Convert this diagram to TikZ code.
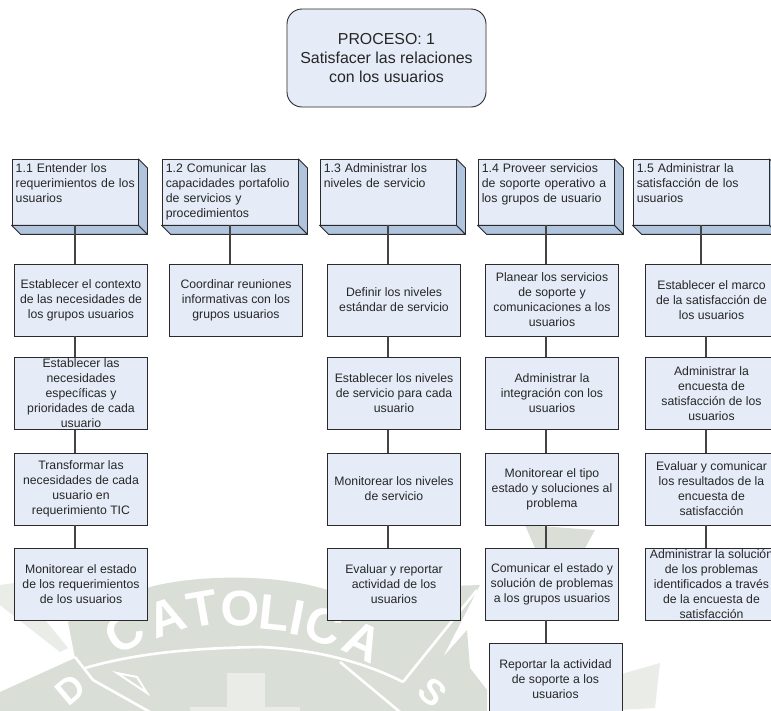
\documentclass[tikz,border=0pt]{standalone}
\usepackage{fontspec}
\setmainfont{Liberation Sans}
\usetikzlibrary{calc}
\definecolor{boxfill}{HTML}{E6ECF7}
\definecolor{depthfill}{HTML}{B0C4DE}
\definecolor{edgecol}{HTML}{2A2A2A}
\definecolor{linkcol}{HTML}{444444}
\definecolor{wmgrey}{HTML}{D9DED6}
\definecolor{wmlight}{HTML}{E9ECE7}
\tikzset{
  x=1pt,y=-1pt,
  procbox/.style={draw=edgecol,fill=boxfill,line width=0.9pt,rounded corners=15pt,minimum width=199pt,minimum height=98pt,inner sep=0pt,align=center,font=\fontsize{15.9}{18.6}\selectfont,text=black!85},
  headbox/.style={draw=edgecol,fill=boxfill,line width=0.9pt,minimum height=65.5pt,inner sep=0pt},
  headtext/.style={anchor=north west,inner sep=0pt,align=left,font=\fontsize{12.3}{15}\selectfont,text=black!85},
  taskbox/.style={draw=edgecol,fill=boxfill,line width=0.9pt,minimum width=133pt,minimum height=72pt,inner sep=0pt,align=center,font=\fontsize{12.25}{15}\selectfont,text=black!85},
  tasktext/.style={inner sep=0pt,align=center,font=\fontsize{12.25}{15}\selectfont,text=black!85},
  link/.style={draw=linkcol,line width=1.1pt},
  depthface/.style={draw=edgecol,fill=depthfill,line width=0.9pt,line join=round},
  wmletter/.style={text=white,font=\bfseries\fontsize{50}{50}\selectfont,inner sep=0pt},
  wmline/.style={draw=white,line width=2.6pt},
}
\newcommand{\headerbox}[5]{% name, left, right, width of text, text
  \node[headbox,minimum width=#3pt-#2pt] (#1) at ({(#2+#3)/2},192.2) {};
  \path[depthface] (#1.north east) -- ++(9,9) -- ($(#1.south east)+(9,9)$) -- (#1.south east) -- cycle;
  \path[depthface] (#1.south west) -- ++(9,9) -- ($(#1.south east)+(9,9)$) -- (#1.south east) -- cycle;
  \node[headtext,text width=#4pt] (#1t) at ($(#1.north west)+(4,4.5)$) {#5};
}
\begin{document}
\begin{tikzpicture}
\useasboundingbox (0,0) rectangle (771,710);
\clip (0,0) rectangle (771,710);
\fill[white] (0,0) rectangle (771,710);
% watermark seal
\fill[wmgrey] (68,622) -- (120,596) -- (150,587) .. controls (190,576) and (270,572) .. (328,590) -- (480,585) -- (443,657) -- (467,630) -- (470,668) -- (487,690) -- (487,715) -- (0,715) -- (0,692) -- (75,658) -- cycle;
\fill[wmgrey] (525,525) -- (595,530) -- (585,548) -- (535,548) -- cycle;
\fill[wmlight] (618,675) -- (660,663) -- (655,708) -- (618,710) -- cycle;
\fill[wmlight] (0,585) -- (15,583) -- (68,648) -- (60,652) -- (0,605) -- cycle;
\draw[wmline] (75,657) -- (93,680) -- (150,712);
\draw[wmline] (85,668) .. controls (140,652) and (200,648) .. (260,647) .. controls (310,649) and (360,660) .. (403,682);
\draw[wmline] (403,682) -- (477,590);
\draw[wmline] (340,662) -- (400,712);
\draw[wmline,line width=2pt] (117,673) -- (137,677) -- (147,693) -- cycle;
\foreach \ch/\px/\py/\rot [count=\i] in {C/125/633/30,A/167/617/20,T/203/609/10,O/240/609/2,L/274/613/-6,I/298/618/-11,C/324/626/-17,A/363/642/-25}
  \node[wmletter,rotate=\rot] (wm\i) at (\px,\py) {\ch};
\node[wmletter,font=\bfseries\fontsize{36}{36}\selectfont,rotate=40] (wmD) at (70,690) {D};
\node[wmletter,font=\bfseries\fontsize{36}{36}\selectfont,rotate=-42] (wmS) at (433,692) {S};
\fill[wmlight] (227,673) rectangle (265,715);
\fill[wmlight] (190,707) rectangle (300,715);
% process
\node[procbox] (proc) at (386.5,58) {PROCESO: 1\\Satisfacer las relaciones\\con los usuarios};
% headers
\headerbox{hA}{12}{138}{128}{1.1 Entender los\\requerimientos de los\\usuarios}
\headerbox{hB}{162}{298}{132}{1.2 Comunicar las\\capacidades portafolio\\de servicios y\\procedimientos}
\headerbox{hC}{320}{456}{132}{1.3 Administrar los\\niveles de servicio}
\headerbox{hD}{478}{614}{132}{1.4 Proveer servicios\\de soporte operativo a\\los grupos de usuario}
\headerbox{hE}{633}{769}{132}{1.5 Administrar la\\satisfacción de los\\usuarios}
% tasks
\node[taskbox] (a1) at (81,300) {Establecer el contexto\\de las necesidades de\\los grupos usuarios};
\node[taskbox] (a2) at (81,393.5) {};
\node[tasktext] (a2t) at (a2.center) {Establecer las\\necesidades\\específicas y\\prioridades de cada\\usuario};
\node[taskbox] (a3) at (81,489) {Transformar las\\necesidades de cada\\usuario en\\requerimiento TIC};
\node[taskbox] (a4) at (81,584) {Monitorear el estado\\de los requerimientos\\de los usuarios};
\node[taskbox] (b1) at (236,300) {Coordinar reuniones\\informativas con los\\grupos usuarios};
\node[taskbox] (c1) at (394,300) {Definir los niveles\\estándar de servicio};
\node[taskbox] (c2) at (394,393.5) {Establecer los niveles\\de servicio para cada\\usuario};
\node[taskbox] (c3) at (394,489) {Monitorear los niveles\\de servicio};
\node[taskbox] (c4) at (394,584) {Evaluar y reportar\\actividad de los\\usuarios};
\node[taskbox] (d1) at (552,300) {Planear los servicios\\de soporte y\\comunicaciones a los\\usuarios};
\node[taskbox] (d2) at (552,393.5) {Administrar la\\integración con los\\usuarios};
\node[taskbox] (d3) at (552,489) {Monitorear el tipo\\estado y soluciones al\\problema};
\node[taskbox] (d4) at (552,584) {Comunicar el estado y\\solución de problemas\\a los grupos usuarios};
\node[taskbox] (d5) at (555.5,679) {Reportar la actividad\\de soporte a los\\usuarios};
\node[taskbox] (e1) at (711.5,300) {Establecer el marco\\de la satisfacción de\\los usuarios};
\node[taskbox] (e2) at (711.5,393.5) {Administrar la\\encuesta de\\satisfacción de los\\usuarios};
\node[taskbox] (e3) at (711.5,489) {Evaluar y comunicar\\los resultados de la\\encuesta de\\satisfacción};
\node[taskbox] (e4) at (711.5,584) {};
\node[tasktext] (e4t) at (e4.center) {Administrar la solución\\de los problemas\\identificados a través\\de la encuesta de\\satisfacción};
% connectors
\draw[link] (hA.south) -- (hA.south |- a1.north);
\draw[link] (hA.south |- a1.south) -- (hA.south |- a2.north);
\draw[link] (hA.south |- a2.south) -- (hA.south |- a3.north);
\draw[link] (hA.south |- a3.south) -- (hA.south |- a4.north);
\draw[link] (hB.south) -- (hB.south |- b1.north);
\draw[link] (hC.south) -- (hC.south |- c1.north);
\draw[link] (hC.south |- c1.south) -- (hC.south |- c2.north);
\draw[link] (hC.south |- c2.south) -- (hC.south |- c3.north);
\draw[link] (hC.south |- c3.south) -- (hC.south |- c4.north);
\draw[link] (hD.south) -- (hD.south |- d1.north);
\draw[link] (hD.south |- d1.south) -- (hD.south |- d2.north);
\draw[link] (hD.south |- d2.south) -- (hD.south |- d3.north);
\draw[link] (hD.south |- d3.south) -- (hD.south |- d4.north);
\draw[link] (hD.south |- d4.south) -- (hD.south |- d5.north);
\draw[link] (hE.south) -- (hE.south |- e1.north);
\draw[link] ([xshift=-5.5pt]e1.south) -- ([xshift=-5.5pt]e2.north);
\draw[link] ([xshift=-5.5pt]e2.south) -- ([xshift=-5.5pt]e3.north);
\draw[link] ([xshift=-5.5pt]e3.south) -- ([xshift=-5.5pt]e4.north);
\end{tikzpicture}
\end{document}
